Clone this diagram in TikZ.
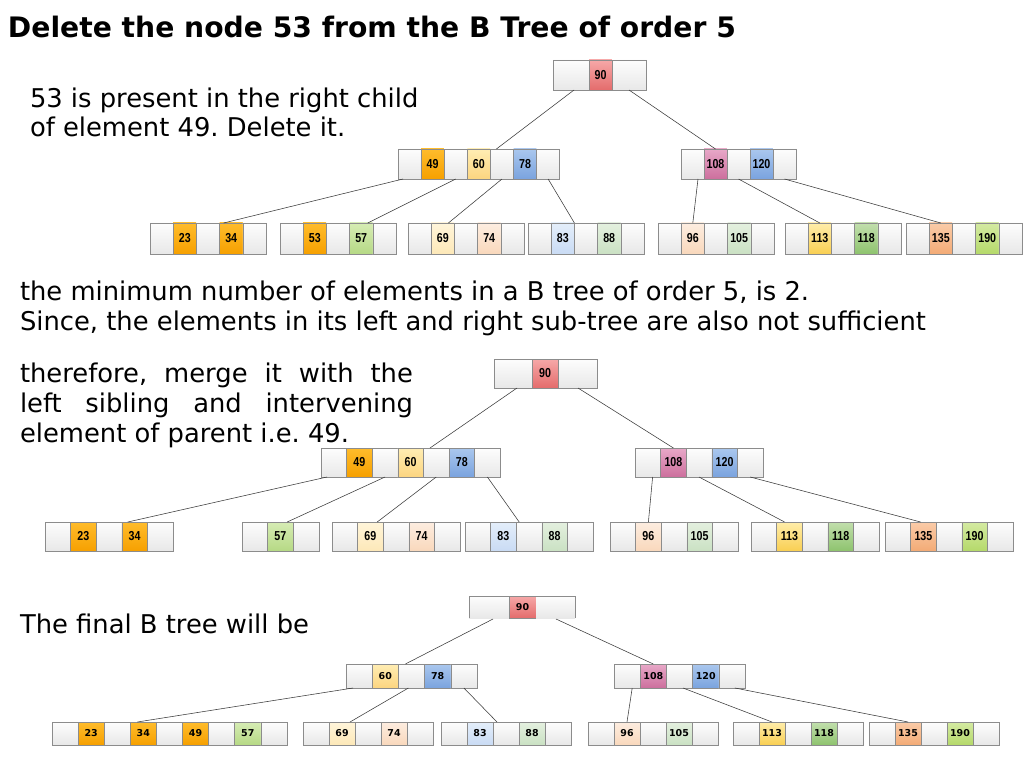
\documentclass[tikz,border=0pt]{standalone}
\usepackage{fontspec}
\setmainfont{DejaVu Sans}
\newfontfamily\numfont[FakeStretch=0.82]{Liberation Sans}
\newfontfamily\bnumfont{DejaVu Sans}
\definecolor{cellborder}{HTML}{8C8C8C}
\definecolor{linkcol}{HTML}{3A3A3A}
\definecolor{wTop}{HTML}{FDFDFD}\definecolor{wBot}{HTML}{E8E8E8}
\definecolor{redTop}{HTML}{F6A8A8}\definecolor{redBot}{HTML}{E46C6C}
\definecolor{orTop}{HTML}{FFBC2C}\definecolor{orBot}{HTML}{F6A000}
\definecolor{yeTop}{HTML}{FFEDB3}\definecolor{yeBot}{HTML}{FCD580}
\definecolor{blTop}{HTML}{AAC7EE}\definecolor{blBot}{HTML}{7AA3DE}
\definecolor{pkTop}{HTML}{E8A8C8}\definecolor{pkBot}{HTML}{CC6F9D}
\definecolor{grTop}{HTML}{D6ECB4}\definecolor{grBot}{HTML}{B6D985}
\definecolor{crTop}{HTML}{FFF5DA}\definecolor{crBot}{HTML}{FDE8B8}
\definecolor{peTop}{HTML}{FDEDE0}\definecolor{peBot}{HTML}{F9D8BC}
\definecolor{lbTop}{HTML}{E4EEFA}\definecolor{lbBot}{HTML}{C9DBF4}
\definecolor{lgTop}{HTML}{E4F0DF}\definecolor{lgBot}{HTML}{CAE1C3}
\definecolor{y2Top}{HTML}{FFEDAA}\definecolor{y2Bot}{HTML}{F9CF52}
\definecolor{g2Top}{HTML}{C2DFAD}\definecolor{g2Bot}{HTML}{8EC36E}
\definecolor{p2Top}{HTML}{FACBA8}\definecolor{p2Bot}{HTML}{F3AB76}
\definecolor{lmTop}{HTML}{D4EAA2}\definecolor{lmBot}{HTML}{B5D96A}
\tikzset{
  cell/.style={draw=cellborder, line width=0.6pt, inner sep=0pt, outer sep=0pt},
  kw/.style={top color=wTop, bottom color=wBot},
  kred/.style={top color=redTop, bottom color=redBot},
  kor/.style={top color=orTop, bottom color=orBot},
  kyel/.style={top color=yeTop, bottom color=yeBot},
  kblu/.style={top color=blTop, bottom color=blBot},
  kpink/.style={top color=pkTop, bottom color=pkBot},
  kgrn/.style={top color=grTop, bottom color=grBot},
  klime/.style={top color=lmTop, bottom color=lmBot},
  kcream/.style={top color=crTop, bottom color=crBot},
  kpeach/.style={top color=peTop, bottom color=peBot},
  klblue/.style={top color=lbTop, bottom color=lbBot},
  klgreen/.style={top color=lgTop, bottom color=lgBot},
  kyel2/.style={top color=y2Top, bottom color=y2Bot},
  kgreen2/.style={top color=g2Top, bottom color=g2Bot},
  kpeach2/.style={top color=p2Top, bottom color=p2Bot},
  link/.style={draw=linkcol, line width=0.55pt},
  txt/.style={anchor=base west, inner sep=0pt, outer sep=0pt},
  nA/.style={font=\numfont\bfseries\fontsize{13}{13}\selectfont},
  nB/.style={font=\bnumfont\bfseries\fontsize{9.5}{10}\selectfont},
}
% #1 prefix, #2 x, #3 y, #4 cell width, #5 height, #6 number style, #7 list
\newcommand\cellrow[7]{%
  \foreach \st/\tx [count=\i] in {#7}{%
    \node[cell,#6,\st,minimum width=#4pt,minimum height=#5pt,anchor=north west]
      (#1\i) at ({#2+(\i-1)*#4},#3) {\tx};
  }%
}
\begin{document}
\begin{tikzpicture}[x=1pt,y=-1pt]
\fill[white] (0,0) rectangle (1024,767);
\useasboundingbox (0,0) rectangle (1024,767);
\frenchspacing
% ---------- texts ----------
\node[txt,font=\bfseries\fontsize{28.2}{30}\selectfont] (title) at (8,38) {Delete the node 53 from the B Tree of order 5};
\begin{scope}[every node/.append style={font=\fontsize{25.8}{29}\selectfont}]
\node[txt] (t1) at (30,108) {53 is present in the right child};
\node[txt] (t2) at (30,137) {of element 49. Delete it.};
\node[txt] (t3) at (20,300) {the minimum number of elements in a B tree of order 5, is 2.};
\node[txt] (t4) at (20,330) {Since, the elements in its left and right sub-tree are also not sufficient};
\node[txt] (t5) at (20,382) {\makebox[393pt][s]{therefore, merge it with the}};
\node[txt] (t6) at (20,412) {\makebox[393pt][s]{left sibling and intervening}};
\node[txt] (t7) at (20,442) {element of parent i.e. 49.};
\node[txt] (t8) at (20,633) {The final B tree will be};
\end{scope}
% ---------- tree 1 ----------
\node[cell,kw,minimum width=36pt,minimum height=30pt,anchor=north west] (T0a) at (553,60) {};
\node[cell,kred,nA,minimum width=23pt,minimum height=30pt,anchor=north west] (T0b) at (589,60) {90};
\node[cell,kw,minimum width=34pt,minimum height=30pt,anchor=north west] (T0c) at (612,60) {};
\cellrow{TL}{398}{149}{23.1}{30}{nA}{kw/{},kor/49,kw/{},kyel/60,kw/{},kblu/78,kw/{}}
\cellrow{TR}{681}{149}{23}{30}{nA}{kw/{},kpink/108,kw/{},kblu/120,kw/{}}
\cellrow{La}{150}{223}{23.2}{31}{nA}{kw/{},kor/23,kw/{},kor/34,kw/{}}
\cellrow{Lb}{280}{223}{23.2}{31}{nA}{kw/{},kor/53,kw/{},kgrn/57,kw/{}}
\cellrow{Lc}{408}{223}{23.2}{31}{nA}{kw/{},kcream/69,kw/{},kpeach/74,kw/{}}
\cellrow{Ld}{528}{223}{23.2}{31}{nA}{kw/{},klblue/83,kw/{},klgreen/88,kw/{}}
\cellrow{Le}{658}{223}{23.2}{31}{nA}{kw/{},kpeach/96,kw/{},klgreen/105,kw/{}}
\cellrow{Lf}{785}{223}{23.2}{31}{nA}{kw/{},kyel2/113,kw/{},kgreen2/118,kw/{}}
\cellrow{Lg}{906}{223}{23.2}{31}{nA}{kw/{},kpeach2/135,kw/{},klime/190,kw/{}}
\draw[link] ([xshift=-15pt]T0a.south east) -- ([xshift=6pt]TL5.north west);
\draw[link] ([xshift=17pt]T0c.south west) -- (TR2.north);
\draw[link] ([xshift=5pt]TL1.south west) -- ([xshift=4pt]La4.north west);
\draw[link] (TL3.south) -- ([xshift=-5pt]Lb4.north east);
\draw[link] (TL5.south) -- ([xshift=-6pt]Lc2.north east);
\draw[link] (TL7.south) -- (Ld3.north west);
\draw[link] ([xshift=-6pt]TR1.south east) -- (Le2.north);
\draw[link] (TR3.south) -- (Lf2.north);
\draw[link] (TR5.south) -- (Lg2.north);
% ---------- tree 2 ----------
\node[cell,kw,minimum width=38pt,minimum height=29pt,anchor=north west] (M0a) at (494,359) {};
\node[cell,kred,nA,minimum width=26pt,minimum height=29pt,anchor=north west] (M0b) at (532,359) {90};
\node[cell,kw,minimum width=39pt,minimum height=29pt,anchor=north west] (M0c) at (558,359) {};
\cellrow{ML}{321}{448}{25.6}{29}{nA}{kw/{},kor/49,kw/{},kyel/60,kw/{},kblu/78,kw/{}}
\cellrow{MR}{635}{448}{25.6}{29}{nA}{kw/{},kpink/108,kw/{},kblu/120,kw/{}}
\cellrow{Ma}{45}{522}{25.6}{29}{nA}{kw/{},kor/23,kw/{},kor/34,kw/{}}
\cellrow{Mb}{242}{522}{25.6}{29}{nA}{kw/{},kgrn/57,kw/{}}
\cellrow{Mc}{332}{522}{25.6}{29}{nA}{kw/{},kcream/69,kw/{},kpeach/74,kw/{}}
\cellrow{Md}{465}{522}{25.6}{29}{nA}{kw/{},klblue/83,kw/{},klgreen/88,kw/{}}
\cellrow{Me}{610}{522}{25.6}{29}{nA}{kw/{},kpeach/96,kw/{},klgreen/105,kw/{}}
\cellrow{Mf}{751}{522}{25.6}{29}{nA}{kw/{},kyel2/113,kw/{},kgreen2/118,kw/{}}
\cellrow{Mg}{885}{522}{25.6}{29}{nA}{kw/{},kpeach2/135,kw/{},klime/190,kw/{}}
\draw[link] ([xshift=-15pt]M0a.south east) -- ([xshift=6.6pt]ML5.north west);
\draw[link] ([xshift=20pt]M0c.south west) -- (MR2.north);
\draw[link] ([xshift=6pt]ML1.south west) -- ([xshift=6pt]Ma4.north west);
\draw[link] (ML3.south) -- ([xshift=-6pt]Mb2.north east);
\draw[link] (ML5.south) -- ([xshift=-6pt]Mc2.north east);
\draw[link] (ML7.south) -- ([xshift=3pt]Md3.north west);
\draw[link] ([xshift=-8pt]MR1.south east) -- (Me2.north);
\draw[link] (MR3.south) -- ([xshift=8pt]Mf2.north west);
\draw[link] (MR5.south) -- ([xshift=10pt]Mg2.north west);
% ---------- tree 3 ----------
\node[inner sep=0pt,outer sep=0pt,kw,minimum width=40pt,minimum height=22pt,anchor=north west] (B0a) at (469,596) {};
\node[cell,kred,nB,minimum width=27pt,minimum height=22pt,anchor=north west] (B0b) at (509,596) {90};
\node[inner sep=0pt,outer sep=0pt,kw,minimum width=39pt,minimum height=22pt,anchor=north west] (B0c) at (536,596) {};
\draw[cell] (B0a.south west) -- (B0a.north west) -- (B0c.north east) -- (B0c.south east);
\cellrow{BL}{346}{664}{26.2}{24}{nB}{kw/{},kyel/60,kw/{},kblu/78,kw/{}}
\cellrow{BR}{614}{664}{26.2}{24}{nB}{kw/{},kpink/108,kw/{},kblu/120,kw/{}}
\cellrow{Ba}{52}{722}{26.1}{23}{nB}{kw/{},kor/23,kw/{},kor/34,kw/{},kor/49,kw/{},kgrn/57,kw/{}}
\cellrow{Bb}{303}{722}{26}{23}{nB}{kw/{},kcream/69,kw/{},kpeach/74,kw/{}}
\cellrow{Bc}{441}{722}{26}{23}{nB}{kw/{},klblue/83,kw/{},klgreen/88,kw/{}}
\cellrow{Bd}{588}{722}{26}{23}{nB}{kw/{},kpeach/96,kw/{},klgreen/105,kw/{}}
\cellrow{Be}{733}{722}{26}{23}{nB}{kw/{},kyel2/113,kw/{},kgreen2/118,kw/{}}
\cellrow{Bf}{869}{722}{26}{23}{nB}{kw/{},kpeach2/135,kw/{},klime/190,kw/{}}
\draw[link] ([xshift=-16pt,yshift=-1pt]B0a.south east) -- ([xshift=7pt]BL3.north west);
\draw[link] ([xshift=20pt,yshift=-1pt]B0c.south west) -- (BR2.north);
\draw[link] ([xshift=7pt]BL1.south west) -- ([xshift=7pt]Ba4.north west);
\draw[link] ([xshift=10pt]BL3.south west) -- ([xshift=-5pt]Bb2.north east);
\draw[link] (BL5.south) -- ([xshift=4pt]Bc3.north west);
\draw[link] ([xshift=-8pt]BR1.south east) -- (Bd2.north);
\draw[link] ([xshift=3.5pt]BR3.south) -- (Be2.north);
\draw[link] ([xshift=3pt]BR5.south) -- (Bf2.north);
\end{tikzpicture}
\end{document}
